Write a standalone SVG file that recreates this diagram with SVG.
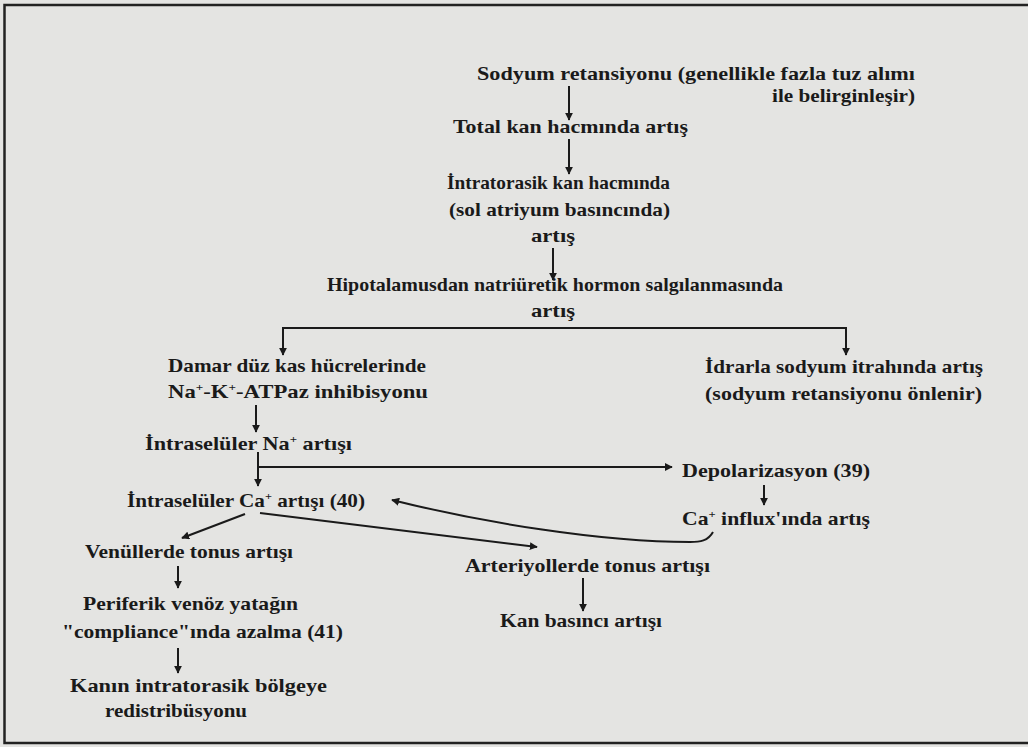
<svg xmlns="http://www.w3.org/2000/svg" width="1028" height="747" viewBox="0 0 1028 747">
<defs>
<marker id="ah" viewBox="0 0 10 10" refX="9" refY="5" markerWidth="8" markerHeight="8" markerUnits="userSpaceOnUse" orient="auto">
<path d="M0,0 L10,5 L0,10 z" fill="#1a1a1a"/>
</marker>
<style>
text{font-family:"Liberation Serif","DejaVu Serif",serif;font-weight:bold;font-size:19px;fill:#1a1a1a;}
.c{fill:none;stroke:#1a1a1a;stroke-width:2;}
.sup{font-size:11px;}
</style>
</defs>
<rect x="0" y="0" width="1028" height="747" fill="#e4e4e2"/>
<path d="M1028 5 H4.5 V743 H1028" fill="none" stroke="#222" stroke-width="2.5"/>
<g id="connectors">
<path class="c" d="M569 86 V120" marker-end="url(#ah)"/>
<path class="c" d="M569 139 V174" marker-end="url(#ah)"/>
<path class="c" d="M553 248 V280" marker-end="url(#ah)"/>
<path class="c" d="M553 328 H283 V355" marker-end="url(#ah)"/>
<path class="c" d="M553 328 H846 V355" marker-end="url(#ah)"/>
<path class="c" d="M256 405 V432" marker-end="url(#ah)"/>
<path class="c" d="M258 452 V486" marker-end="url(#ah)"/>
<path class="c" d="M258 467 H672" marker-end="url(#ah)"/>
<path class="c" d="M764 485 V505" marker-end="url(#ah)"/>
<path class="c" d="M245 514 L182 538" marker-end="url(#ah)"/>
<path class="c" d="M260 513 L537 547" marker-end="url(#ah)"/>
<path class="c" d="M713 532 C708 541 700 542 690 542 C600 542 480 522 392 500" marker-end="url(#ah)"/>
<path class="c" d="M178 566 V588" marker-end="url(#ah)"/>
<path class="c" d="M583 578 V611" marker-end="url(#ah)"/>
<path class="c" d="M178 648 V673" marker-end="url(#ah)"/>
</g>
<g id="n1">
<text x="477" y="80" textLength="438" lengthAdjust="spacingAndGlyphs">Sodyum retansiyonu  (genellikle fazla tuz alımı</text>
<text x="772" y="102" textLength="143" lengthAdjust="spacingAndGlyphs">ile belirginleşir)</text>
</g>
<g id="n2"><text x="453" y="133" textLength="235" lengthAdjust="spacingAndGlyphs">Total kan hacmında artış</text></g>
<g id="n3">
<text x="447" y="189" textLength="223" lengthAdjust="spacingAndGlyphs">İntratorasik kan hacmında</text>
<text x="449" y="216" textLength="221" lengthAdjust="spacingAndGlyphs">(sol atriyum basıncında)</text>
<text x="531" y="242" textLength="44" lengthAdjust="spacingAndGlyphs">artış</text>
</g>
<g id="n4">
<text x="327" y="291" textLength="456" lengthAdjust="spacingAndGlyphs">Hipotalamusdan natriüretik hormon salgılanmasında</text>
<text x="531" y="317" textLength="44" lengthAdjust="spacingAndGlyphs">artış</text>
</g>
<g id="n5">
<text x="168" y="372" textLength="258" lengthAdjust="spacingAndGlyphs">Damar düz kas hücrelerinde</text>
<text x="168" y="398" textLength="260" lengthAdjust="spacingAndGlyphs">Na<tspan class="sup" dy="-7">+</tspan><tspan dy="7">-K</tspan><tspan class="sup" dy="-7">+</tspan><tspan dy="7">-ATPaz inhibisyonu</tspan></text>
</g>
<g id="n6">
<text x="705" y="373" textLength="278" lengthAdjust="spacingAndGlyphs">İdrarla sodyum itrahında artış</text>
<text x="705" y="400" textLength="277" lengthAdjust="spacingAndGlyphs">(sodyum retansiyonu önlenir)</text>
</g>
<g id="n7"><text x="145" y="450" textLength="207" lengthAdjust="spacingAndGlyphs">İntraselüler Na<tspan class="sup" dy="-7">+</tspan><tspan dy="7"> artışı</tspan></text></g>
<g id="n8"><text x="682" y="477" textLength="188" lengthAdjust="spacingAndGlyphs">Depolarizasyon (39)</text></g>
<g id="n9"><text x="127" y="507" textLength="238" lengthAdjust="spacingAndGlyphs">İntraselüler Ca<tspan class="sup" dy="-7">+</tspan><tspan dy="7"> artışı (40)</tspan></text></g>
<g id="n10"><text x="682" y="525" textLength="188" lengthAdjust="spacingAndGlyphs">Ca<tspan class="sup" dy="-7">+</tspan><tspan dy="7"> influx'ında artış</tspan></text></g>
<g id="n11"><text x="85" y="558" textLength="208" lengthAdjust="spacingAndGlyphs">Venüllerde tonus artışı</text></g>
<g id="n12"><text x="465" y="572" textLength="245" lengthAdjust="spacingAndGlyphs">Arteriyollerde tonus artışı</text></g>
<g id="n13">
<text x="83" y="610" textLength="215" lengthAdjust="spacingAndGlyphs">Periferik venöz yatağın</text>
<text x="62" y="638" textLength="281" lengthAdjust="spacingAndGlyphs">"compliance"ında azalma (41)</text>
</g>
<g id="n14"><text x="500" y="627" textLength="162" lengthAdjust="spacingAndGlyphs">Kan basıncı artışı</text></g>
<g id="n15">
<text x="70" y="692" textLength="257" lengthAdjust="spacingAndGlyphs">Kanın intratorasik bölgeye</text>
<text x="105" y="717" textLength="142" lengthAdjust="spacingAndGlyphs">redistribüsyonu</text>
</g>
</svg>
